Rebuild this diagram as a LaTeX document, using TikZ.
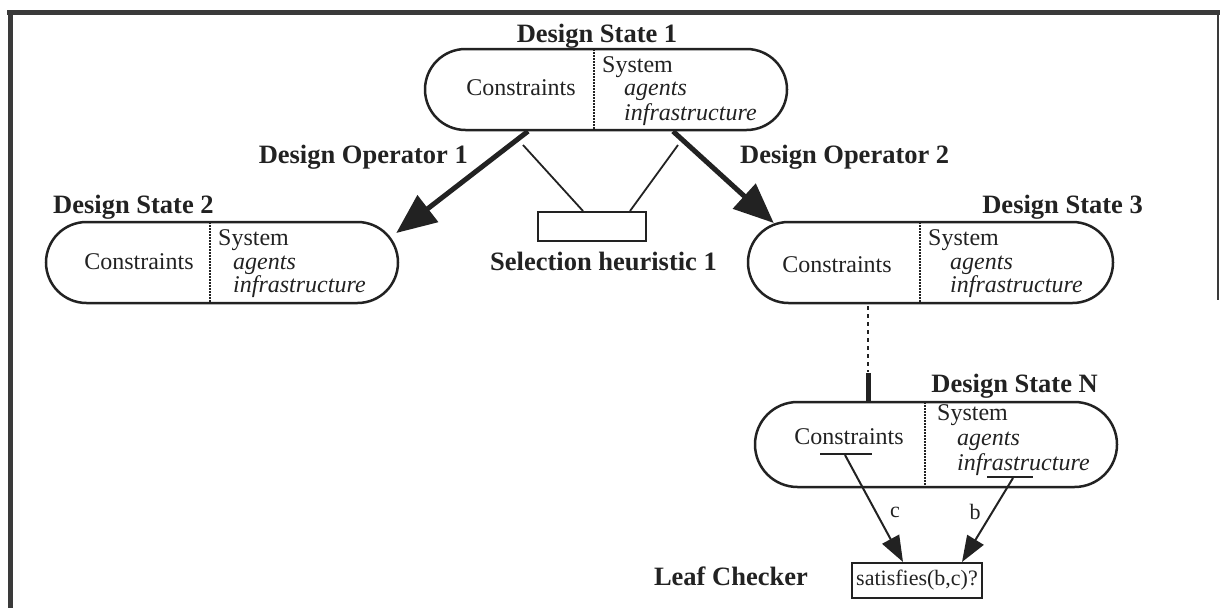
\documentclass[tikz,border=0pt]{standalone}
\usepackage{fontspec}
\setmainfont{Liberation Serif}
\usetikzlibrary{shapes.misc,arrows.meta,calc}
\definecolor{ink}{HTML}{222222}
\definecolor{rule}{HTML}{3A3A3A}
\begin{document}
\begin{tikzpicture}[x=1pt,y=-1pt,
  statebox/.style={rounded rectangle, draw=ink, line width=2.5pt, inner sep=0pt},
  divider/.style={draw=ink, line width=1.1pt, dash pattern=on 2pt off 1pt},
  title/.style={font=\fontsize{26.5}{30}\selectfont\bfseries, text=ink, inner sep=0pt},
  body/.style={font=\fontsize{24}{28}\selectfont, text=ink, inner sep=0pt},
  slot/.style={font=\fontsize{24}{28}\selectfont\itshape, text=ink, inner sep=0pt},
  small/.style={font=\fontsize{22}{26}\selectfont, text=ink, inner sep=0pt},
  plainbox/.style={draw=ink, line width=2pt, inner sep=0pt},
  operator/.style={draw=ink, line width=5pt, -{Triangle[length=40pt,width=33pt]}},
  feed/.style={draw=ink, line width=2pt, -{Triangle[length=26pt,width=19pt]}},
  tether/.style={draw=ink, line width=1.8pt},
  underlinestroke/.style={draw=ink, line width=1.5pt}
]
\useasboundingbox (0,0) rectangle (1220,608);

% page frame
\draw[rule, line width=5pt] (7,12) -- (1220,12);
\draw[rule, line width=5pt] (10,10) -- (10,608);
\draw[rule, line width=2pt] (1218,12) -- (1218,300);

% ---- Design State 1 ----
\node[statebox, minimum width=362pt, minimum height=81pt] (ds1) at (606,89.5) {};
\draw[divider] (594,49) -- (594,130);
\node[title, anchor=base] (t1) at (597,42) {Design State 1};
\node[body, anchor=base] (c1) at (521,95) {Constraints};
\node[body, anchor=base west] (s1) at (602,72) {System};
\node[slot, anchor=base west] (a1) at (624,95.5) {agents};
\node[slot, anchor=base west] (i1) at (624,120) {infrastructure};

% ---- Design State 2 ----
\node[statebox, minimum width=352pt, minimum height=81pt] (ds2) at (222,262.5) {};
\draw[divider] (210,222) -- (210,303);
\node[title, anchor=base west] (t2) at (53,213) {Design State 2};
\node[body, anchor=base] (c2) at (139,269) {Constraints};
\node[body, anchor=base west] (s2) at (218,245) {System};
\node[slot, anchor=base west] (a2) at (233,269) {agents};
\node[slot, anchor=base west] (i2) at (233,292) {infrastructure};

% ---- Design State 3 ----
\node[statebox, minimum width=365pt, minimum height=81pt] (ds3) at (930.5,262.5) {};
\draw[divider] (920,222) -- (920,303);
\node[title, anchor=base east] (t3) at (1143,213) {Design State 3};
\node[body, anchor=base] (c3) at (837,272) {Constraints};
\node[body, anchor=base west] (s3) at (928,245) {System};
\node[slot, anchor=base west] (a3) at (950,269) {agents};
\node[slot, anchor=base west] (i3) at (950,292) {infrastructure};

% ---- Design State N ----
\node[statebox, minimum width=362pt, minimum height=85pt] (dsn) at (936,444.5) {};
\draw[divider] (925,402) -- (925,487);
\node[title, anchor=base east] (tn) at (1098,392) {Design State N};
\node[body, anchor=base] (cn) at (849,444) {Constraints};
\node[body, anchor=base west] (sn) at (937,420) {System};
\node[slot, anchor=base west] (an) at (957,445) {agents};
\node[slot, anchor=base west] (in) at (957,470) {infrastructure};
\draw[underlinestroke] (820,454) -- (872,454);
\draw[underlinestroke] (987,477) -- (1033,477);
\coordinate (cmark) at (845,455);
\coordinate (bmark) at (1013,478);

% ---- design operators ----
\node[title, anchor=base east] (op1) at (468,163) {Design Operator 1};
\node[title, anchor=base west] (op2) at (740,163) {Design Operator 2};
\draw[operator] ($(ds1.south)+(-78,0)$) -- ($(ds2.east)+(-3,-29.5)$);
\draw[operator] ($(ds1.south)+(67,0)$) -- ($(ds3.west)+(27,-39.5)$);

% ---- selection heuristic ----
\node[plainbox, minimum width=108pt, minimum height=29pt] (sel) at (592,226.5) {};
\node[title, anchor=base] (selt) at (603.5,270) {Selection heuristic 1};
\coordinate (sh1) at (523,145);
\coordinate (sh2) at (678,145);
\draw[tether] (sh1) -- ($(sel.north)+(-9,0)$);
\draw[tether] (sh2) -- ($(sel.north)+(38,0)$);

% ---- path from state 3 down to state N ----
\coordinate (gap) at ($(ds3.south)+(-62.5,68)$);
\draw[ink, line width=2pt, dash pattern=on 4pt off 4pt] ($(ds3.south)+(-62.5,2)$) -- (gap);
\draw[ink, line width=5pt] ($(dsn.north)+(-68,-28)$) -- (dsn.north -| gap);

% ---- leaf checker ----
\node[plainbox, minimum width=130pt, minimum height=35pt] (leaf) at (917,580.5) {};
\node[small] (leaft) at (leaf) {satisfies(b,c)?};
\node[title, anchor=base east] (leafl) at (808,585) {Leaf Checker};
\draw[feed] (cmark) -- ($(leaf.north)+(-14,0)$);
\draw[feed] (bmark) -- ($(leaf.north)+(45,0)$);
\node[body, font=\fontsize{22}{26}\selectfont] (lc) at (895,512) {c};
\node[body, font=\fontsize{22}{26}\selectfont] (lb) at (975,512) {b};
\end{tikzpicture}
\end{document}
